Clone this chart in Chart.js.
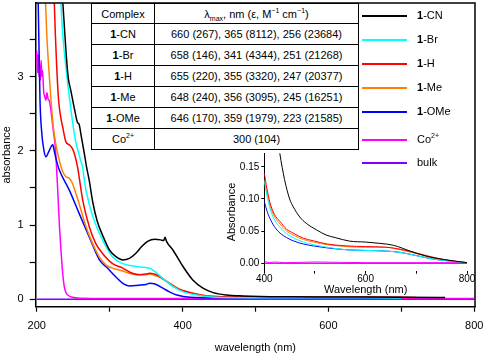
<!DOCTYPE html>
<html>
<head>
<meta charset="utf-8">
<script src="https://cdn.jsdelivr.net/npm/chart.js@4"></script>
<style>
  html, body { margin:0; padding:0; background:#fff; }
  body { width:486px; height:356px; position:relative; overflow:hidden; font-family:'Liberation Sans', Arial, sans-serif; color:#000; }
  #main { position:absolute; left:0; top:0; }
  #inset { position:absolute; left:200px; top:140px; }
  #tbl { position:absolute; left:91px; top:3px; border-collapse:collapse; background:#fff; font-size:11px; }
  #tbl td { border:1px solid #000; text-align:center; padding:0; height:20px; line-height:12px; }
  #tbl tr:first-child td { height:19px; }
  #tbl td.c1 { width:62px; }
  #tbl td.c2 { width:203px; }
  sub, sup { font-size:7px; line-height:0; }
  #legend { position:absolute; left:0; top:0; font-size:11px; }
  .li { position:absolute; left:362px; width:45px; height:2px; }
  .lt { position:absolute; left:417px; line-height:12px; white-space:nowrap; }
</style>
</head>
<body>
<canvas id="main" width="486" height="356"></canvas>
<canvas id="inset" width="286" height="160"></canvas>
<table id="tbl"></table>
<div id="legend"></div>
<script>
// ---------- data ----------
const seriesNames  = ['1-CN', '1-Br', '1-H', '1-Me', '1-OMe', 'Co2+', 'bulk'];
const seriesColors = ['#000000', '#00FFFF', '#FF0000', '#FF8000', '#0000FF', '#FF00FF', '#8000FF'];

// main spectra: [wavelength nm, absorbance]
const cnMain = [[232,4.6],[235.6,4.03],[240,3.36],[243,3.0],[247,2.8],[252,2.55],[256,2.38],[258,2.36],[261,2.2],[265,1.98],[268,1.8],[272,1.6],[277,1.3],[283,1.05],[290,0.87],[300,0.66],[309,0.57],[318,0.53],[327,0.55],[336,0.62],[344,0.71],[352,0.78],[362,0.81],[370,0.80],[374,0.79],[376,0.835],[378,0.78],[387,0.66],[400,0.45],[414,0.26],[428,0.15],[442,0.09],[460,0.058],[483,0.044],[506,0.037],[550,0.033],[600,0.031],[650,0.029],[700,0.027],[760,0.025]];
const brMain = [[230,4.6],[233,4.03],[235.6,3.58],[240,3.13],[243,2.86],[247,2.55],[251.5,2.23],[254,2.10],[258,1.95],[260.5,1.86],[262,1.82],[267.5,1.47],[277,1.11],[286,0.89],[295,0.71],[304,0.57],[318,0.48],[331,0.45],[346,0.43],[354,0.42],[360,0.39],[366,0.34],[373,0.28],[387,0.17],[401,0.10],[419,0.058],[446,0.027],[500,0.022],[600,0.02],[700,0.018]];
const hMain  = [[222,4.6],[224,4.03],[225.5,3.58],[227.4,3.13],[230,2.68],[233,2.45],[235.6,2.32],[240,2.12],[244.7,2.08],[249,2.03],[252,1.95],[256,1.78],[263,1.34],[272,0.98],[281,0.75],[290,0.62],[304,0.48],[318,0.42],[331,0.35],[340,0.33],[350,0.34],[355,0.35],[364,0.33],[378,0.24],[392,0.15],[410,0.09],[433,0.044],[470,0.032],[550,0.03],[650,0.028],[720,0.025]];
const meMain = [[210,4.6],[212,4.03],[213.7,3.58],[216.4,3.13],[219.6,2.68],[222.7,2.32],[226.4,2.08],[231,1.87],[235.6,1.72],[240,1.65],[244.7,1.63],[249,1.56],[258,1.29],[267.5,0.98],[276.7,0.75],[285.8,0.57],[295,0.46],[304,0.42],[318,0.38],[331,0.34],[350,0.33],[355,0.34],[362,0.32],[369,0.30],[382.6,0.215],[396,0.135],[414.5,0.08],[434,0.044],[480,0.03],[600,0.028],[700,0.025]];
const omeMain = [[200,4.6],[202,4.0],[204.5,2.68],[207,2.23],[210,2.0],[212.7,1.92],[217,2.0],[222,2.08],[224,2.0],[227,1.87],[231,1.74],[244.7,1.47],[258,1.16],[272,0.84],[286,0.53],[297,0.42],[308.6,0.30],[318,0.215],[327,0.18],[340,0.19],[350,0.20],[355,0.215],[362,0.205],[373,0.15],[382,0.10],[392,0.058],[410,0.027],[450,0.02],[550,0.019],[700,0.018]];
const coMain = [[200,3.35],[201,3.05],[202,3.3],[203,3.0],[204,3.15],[205,2.95],[206,3.22],[207,3.0],[208,3.08],[209.5,2.8],[211,2.73],[212.5,2.68],[214,2.78],[215.5,2.7],[217,2.68],[219,2.58],[221,2.42],[223,2.25],[225,2.1],[226.4,1.92],[228.8,1.47],[231,1.02],[233.3,0.66],[235.6,0.35],[237.8,0.17],[240,0.09],[242.5,0.058],[249,0.027],[260,0.015],[300,0.012],[800,0.01]];
const bulkMain = [[200,0],[300,0],[400,0],[500,0],[600,0],[700,0],[800,0]];

// inset spectra (400-800 nm)
const cnInset = [[400,0.40],[415,0.26],[430.6,0.171],[440,0.13],[450,0.10],[457,0.088],[470,0.072],[483,0.062],[503,0.052],[522,0.044],[540,0.040],[568,0.0345],[600,0.033],[628,0.031],[655,0.028],[688,0.019],[720,0.011],[753,0.006],[800,0.001]];
const brInset = [[400,0.127],[405,0.106],[411,0.086],[420,0.068],[431,0.056],[444,0.046],[457,0.040],[477,0.033],[497,0.029],[524,0.025],[563,0.021],[600,0.020],[640,0.019],[668,0.017],[700,0.012],[730,0.007],[760,0.004],[800,0.001]];
const hInset  = [[400,0.140],[405,0.117],[411,0.095],[420,0.076],[431,0.065],[444,0.053],[457,0.047],[477,0.039],[497,0.035],[524,0.030],[563,0.027],[600,0.026],[640,0.025],[668,0.022],[700,0.016],[730,0.010],[760,0.005],[800,0.001]];
const meInset = [[400,0.130],[405,0.110],[411,0.090],[420,0.073],[431,0.061],[444,0.050],[457,0.044],[477,0.037],[497,0.033],[524,0.029],[563,0.026],[600,0.025],[640,0.025],[668,0.021],[700,0.015],[730,0.009],[760,0.005],[800,0.001]];
const omeInset = [[400,0.096],[405,0.082],[411,0.070],[420,0.057],[431,0.047],[444,0.040],[457,0.035],[477,0.030],[497,0.027],[524,0.024],[563,0.021],[600,0.020],[640,0.019],[668,0.017],[700,0.012],[730,0.007],[760,0.004],[800,0.001]];
const coInset = [[400,0.003],[410,0.001],[420,0.002],[440,0.001],[500,0.002],[600,0.001],[700,0.001],[800,0.001]];
const bulkInset = [[400,0],[800,0]];

// ticks
const mainXTicks = [200,300,400,500,600,700,800];
const mainXLabels = [200,400,600,800];
const mainYTicks = [0,0.5,1,1.5,2,2.5,3,3.5];
const mainYLabels = [0,1,2,3];
const insetXTicks = [400,500,600,700,800];
const insetXLabels = [400,600,800];
const insetYTicks = [0,0.05,0.10,0.15];

// table
const tableHeader = ['Complex', '&lambda;<sub>max</sub>, nm (&epsilon;, M<sup>&minus;1</sup> cm<sup>&minus;1</sup>)'];
const tableComplex = ['<b>1</b>-CN', '<b>1</b>-Br', '<b>1</b>-H', '<b>1</b>-Me', '<b>1</b>-OMe', 'Co<sup>2+</sup>'];
const tableLambda = ['660 (267), 365 (8112), 256 (23684)', '658 (146), 341 (4344), 251 (21268)', '655 (220), 355 (3320), 247 (20377)', '648 (240), 356 (3095), 245 (16251)', '646 (170), 359 (1979), 223 (21585)', '300 (104)'];

// ---------- build ----------
const labelHtml = n => n.replace(/^1-/, '<b>1</b>-').replace('2+', '<sup>2+</sup>');
const toPts = a => a.map(([x, y]) => ({x, y}));

let th = '<tr><td class="c1">' + tableHeader[0] + '</td><td class="c2">' + tableHeader[1] + '</td></tr>';
tableComplex.forEach((c, i) => { th += '<tr><td class="c1">' + c + '</td><td class="c2">' + tableLambda[i] + '</td></tr>'; });
document.getElementById('tbl').innerHTML = th;

const legendY = [15.7, 40, 64, 88.3, 112.3, 140, 163.3];
let lg = '';
seriesNames.forEach((n, i) => {
  lg += '<div class="li" style="top:' + (legendY[i] - 1) + 'px;background:' + seriesColors[i] + '"></div>';
  lg += '<div class="lt" style="top:' + (legendY[i] - 7) + 'px">' + labelHtml(n) + '</div>';
});
document.getElementById('legend').innerHTML = lg;

Chart.defaults.font.family = "'Liberation Sans', Arial, sans-serif";
Chart.defaults.font.size = 11;
Chart.defaults.color = '#000';

const mainSets = [cnMain, brMain, hMain, meMain, omeMain, coMain, bulkMain];
const insetSets = [cnInset, brInset, hInset, meInset, omeInset, coInset, bulkInset];

function makeDatasets(sets, width) {
  return sets.map((s, i) => ({
    label: seriesNames[i],
    data: toPts(s),
    borderColor: seriesColors[i],
    borderWidth: width,
    pointRadius: 0,
    fill: false,
    cubicInterpolationMode: 'monotone'
  }));
}

const fixSize = (dim, val) => s => {
  s[dim] = val;
  s.paddingLeft = 0; s.paddingRight = 0; s.paddingTop = 0; s.paddingBottom = 0;
};

const framePlugin = {
  id: 'frame',
  afterDraw(chart) {
    const {ctx, chartArea: a} = chart;
    ctx.save();
    ctx.strokeStyle = '#000';
    ctx.lineWidth = 1.5;
    ctx.beginPath();
    ctx.moveTo(a.left, a.top);
    ctx.lineTo(a.right, a.top);
    ctx.lineTo(a.right, a.bottom);
    ctx.stroke();
    ctx.restore();
  }
};

new Chart(document.getElementById('main'), {
  type: 'line',
  data: { datasets: makeDatasets(mainSets, 1.5) },
  options: {
    responsive: false, animation: false,
    layout: { padding: { top: 3, right: 11, left: 0, bottom: 0 } },
    plugins: { legend: { display: false }, tooltip: { enabled: false } },
    scales: {
      x: {
        type: 'linear', min: 198.6, max: 801,
        afterFit: fixSize('height', 49.3),
        afterBuildTicks: s => { s.ticks = mainXTicks.map(v => ({value: v})); },
        ticks: { callback: v => mainXLabels.includes(v) ? String(v) : '', padding: 7.7, maxRotation: 0, autoSkip: false },
        grid: { drawOnChartArea: false, drawTicks: true, tickLength: 5, tickColor: '#000', tickWidth: 1.2 },
        border: { display: true, color: '#000', width: 1.5 },
        title: { display: true, text: 'wavelength (nm)', padding: { top: 0, bottom: 1.4 } }
      },
      y: {
        type: 'linear', min: -0.1, max: 3.99,
        afterFit: fixSize('width', 35.7),
        afterBuildTicks: s => { s.ticks = mainYTicks.map(v => ({value: v})); },
        ticks: { callback: v => mainYLabels.includes(v) ? String(v) : '', padding: 6, autoSkip: false },
        grid: { drawOnChartArea: false, drawTicks: true, tickLength: 6, tickColor: '#000', tickWidth: 1.2 },
        border: { display: true, color: '#000', width: 1.5 },
        title: { display: true, text: 'absorbance', padding: { top: 0, bottom: 0 } }
      }
    }
  },
  plugins: [framePlugin]
});

new Chart(document.getElementById('inset'), {
  type: 'line',
  data: { datasets: makeDatasets(insetSets, 1) },
  options: {
    responsive: false, animation: false,
    layout: { padding: { top: 13.3, right: 19, left: 0, bottom: 0 } },
    plugins: { legend: { display: false }, tooltip: { enabled: false } },
    scales: {
      x: {
        type: 'linear', min: 400, max: 800,
        afterFit: fixSize('height', 29.3),
        afterBuildTicks: s => { s.ticks = insetXTicks.map(v => ({value: v})); },
        ticks: { callback: v => insetXLabels.includes(v) ? String(v) : '', padding: 0.5, maxRotation: 0, autoSkip: false, font: { size: 10, lineHeight: 1 } },
        grid: { drawOnChartArea: false, drawTicks: true, tickLength: 3, tickColor: '#000', tickWidth: 1 },
        border: { display: false },
        title: { display: true, text: 'Wavelength (nm)', padding: { top: 0, bottom: 3.4 } }
      },
      y: {
        type: 'linear', min: -0.0115, max: 0.171,
        afterFit: fixSize('width', 64.3),
        afterBuildTicks: s => { s.ticks = insetYTicks.map(v => ({value: v})); },
        ticks: { callback: v => v.toFixed(2), padding: 2, autoSkip: false, font: { size: 10 } },
        grid: { drawOnChartArea: false, drawTicks: true, tickLength: 3, tickColor: '#000', tickWidth: 1 },
        border: { display: true, color: '#000', width: 1 },
        title: { display: true, text: 'Absorbance', padding: { top: 24.9, bottom: 0 } }
      }
    }
  }
});
</script>
</body>
</html>
